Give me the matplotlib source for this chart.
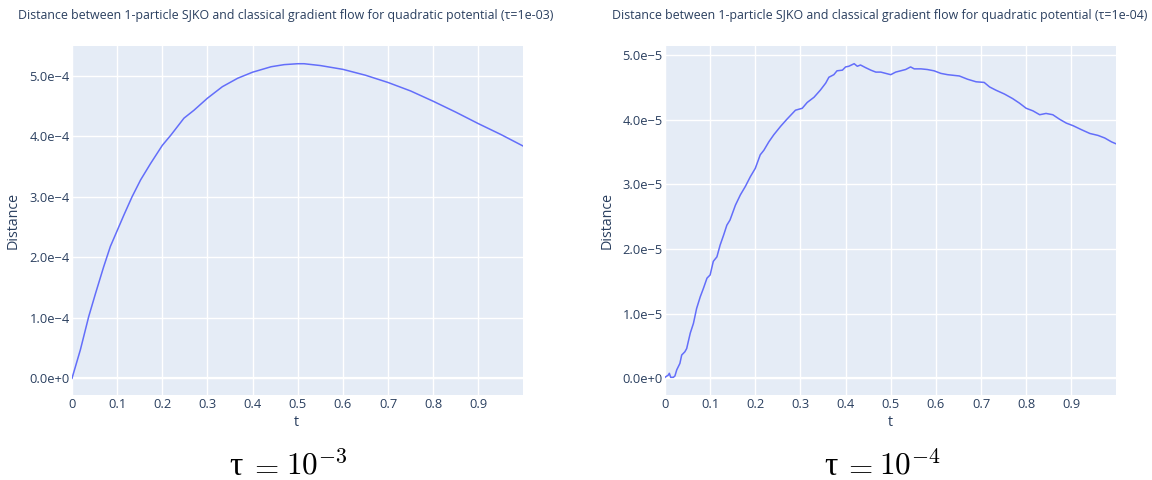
import matplotlib
matplotlib.use('Agg')
import matplotlib.pyplot as plt
from matplotlib.ticker import FixedLocator, FixedFormatter

plt.rcParams['font.family'] = ['Open Sans', 'DejaVu Sans']
plt.rcParams['mathtext.fontset'] = 'cm'

# ---------------- data ----------------
t_left = [0, 0.0185, 0.037, 0.052, 0.070, 0.085, 0.1, 0.115, 0.133, 0.152, 0.174,
          0.2, 0.219, 0.248, 0.270, 0.3, 0.333, 0.367, 0.4, 0.441, 0.47, 0.5,
          0.514, 0.55, 0.6, 0.65, 0.7, 0.75, 0.8, 0.85, 0.9, 0.95, 0.999]
d_left = [0, 0.47, 1.02, 1.40, 1.84, 2.18, 2.44, 2.70, 3.00, 3.28, 3.55,
          3.85, 4.02, 4.30, 4.43, 4.63, 4.82, 4.96, 5.06, 5.15, 5.185, 5.20,
          5.20, 5.17, 5.107, 5.01, 4.89, 4.75, 4.58, 4.40, 4.21, 4.03, 3.84]  # x 1e-4

t_right = [0, 0.0074, 0.0096, 0.0126, 0.0185, 0.022, 0.026, 0.033, 0.037, 0.044,
           0.048, 0.056, 0.063, 0.070, 0.078, 0.085, 0.093, 0.1, 0.107, 0.115,
           0.122, 0.130, 0.137, 0.144, 0.156, 0.167, 0.178, 0.189, 0.2, 0.211,
           0.219, 0.230, 0.241, 0.256, 0.270, 0.289, 0.304, 0.315, 0.330, 0.344,
           0.356, 0.363, 0.374, 0.381, 0.393, 0.4, 0.407, 0.419, 0.426, 0.433,
           0.444, 0.456, 0.467, 0.478, 0.489, 0.5, 0.511, 0.522, 0.533, 0.544,
           0.552, 0.567, 0.581, 0.596, 0.611, 0.626, 0.652, 0.670, 0.689, 0.707,
           0.719, 0.733, 0.752, 0.770, 0.785, 0.8, 0.815, 0.830, 0.844, 0.859,
           0.874, 0.889, 0.904, 0.922, 0.941, 0.959, 0.974, 0.989, 0.999]
d_right = [0.015, 0.05, 0.077, 0.015, 0.015, 0.036, 0.13, 0.23, 0.36, 0.41,
           0.46, 0.70, 0.85, 1.08, 1.26, 1.39, 1.55, 1.60, 1.81, 1.88,
           2.06, 2.22, 2.37, 2.45, 2.68, 2.84, 2.97, 3.12, 3.25, 3.46,
           3.53, 3.66, 3.77, 3.90, 4.01, 4.15, 4.18, 4.27, 4.35, 4.46,
           4.57, 4.66, 4.70, 4.76, 4.77, 4.82, 4.83, 4.87, 4.83, 4.85,
           4.81, 4.77, 4.74, 4.74, 4.72, 4.70, 4.74, 4.76, 4.78, 4.82,
           4.79, 4.79, 4.78, 4.76, 4.72, 4.70, 4.68, 4.63, 4.59, 4.58,
           4.51, 4.46, 4.40, 4.33, 4.26, 4.18, 4.14, 4.08, 4.10, 4.08,
           4.01, 3.95, 3.91, 3.85, 3.79, 3.76, 3.72, 3.66, 3.63]  # x 1e-5

x_ticks = [0, 0.1, 0.2, 0.3, 0.4, 0.5, 0.6, 0.7, 0.8, 0.9]
x_labels = ['0', '0.1', '0.2', '0.3', '0.4', '0.5', '0.6', '0.7', '0.8', '0.9']
y_ticks_left = [0, 1e-4, 2e-4, 3e-4, 4e-4, 5e-4]
y_labels_left = ['0.0e+0', '1.0e\u22124', '2.0e\u22124', '3.0e\u22124', '4.0e\u22124', '5.0e\u22124']
y_ticks_right = [0, 1e-5, 2e-5, 3e-5, 4e-5, 5e-5]
y_labels_right = ['0.0e+0', '1.0e\u22125', '2.0e\u22125', '3.0e\u22125', '4.0e\u22125', '5.0e\u22125']

title_left = 'Distance between 1-particle SJKO and classical gradient flow for quadratic potential (\u03c4=1e-03)'
title_right = 'Distance between 1-particle SJKO and classical gradient flow for quadratic potential (\u03c4=1e-04)'
cap_tau = '\u03c4'
cap_eq = r'$=$'
cap_pow_left = r'$10^{-3}$'
cap_pow_right = r'$10^{-4}$'

# ---------------- style ----------------
TXT = '#2a3f5f'
BG = '#E5ECF6'
LINE = '#636EFA'
W, H = 1152, 480

fig = plt.figure(figsize=(11.52, 4.8), dpi=100)


def px_axes(x0, x1, y0, y1):
    return fig.add_axes([x0 / W, 1 - y1 / H, (x1 - x0) / W, (y1 - y0) / H])


def style(ax, yt, yl, ylim):
    ax.set_facecolor(BG)
    for s in ax.spines.values():
        s.set_visible(False)
    ax.set_xlim(0, 0.999)
    ax.set_ylim(*ylim)
    ax.xaxis.set_major_locator(FixedLocator(x_ticks))
    ax.xaxis.set_major_formatter(FixedFormatter(x_labels))
    ax.yaxis.set_major_locator(FixedLocator(yt))
    ax.yaxis.set_major_formatter(FixedFormatter(yl))
    ax.grid(True, color='white', linewidth=1.0)
    ax.set_axisbelow(True)
    ax.tick_params(axis='both', length=0, labelsize=9.3, labelcolor=TXT)
    ax.tick_params(axis='y', pad=1.5)
    ax.tick_params(axis='x', pad=2)
    ax.axhline(0, color='white', linewidth=1.6, zorder=1)


axL = px_axes(72, 523, 46, 395)
style(axL, y_ticks_left, y_labels_left, (-0.276e-4, 5.493e-4))
axL.plot(t_left, [v * 1e-4 for v in d_left], color=LINE, linewidth=1.1, zorder=3)

axR = px_axes(665, 1116, 46, 395)
style(axR, y_ticks_right, y_labels_right, (-0.259e-5, 5.144e-5))
axR.plot(t_right, [v * 1e-5 for v in d_right], color=LINE, linewidth=1.1, zorder=3)


def ftext(x, y, s, ha='center', va='center', **kw):
    fig.text(x / W, 1 - y / H, s, ha=ha, va=va, **kw)


ftext(286, 15, title_left, fontsize=8.9, color=TXT)
ftext(880, 15, title_right, fontsize=8.9, color=TXT)
ftext(13, 220, 'Distance', fontsize=10.3, color=TXT, rotation=90)
ftext(607, 220, 'Distance', fontsize=10.3, color=TXT, rotation=90)
ftext(296, 423, 't', fontsize=10.3, color=TXT)
ftext(890, 423, 't', fontsize=10.3, color=TXT)

# captions below each panel
for x_tau, x_eq, x_pow, pw in [(229.6, 264, 286, cap_pow_left),
                               (824, 858, 879, cap_pow_right)]:
    ftext(x_tau, 475, cap_tau, ha='left', va='baseline', fontsize=24,
          color='black', family=['Liberation Serif', 'DejaVu Serif'])
    ftext(x_eq, 475, cap_eq, ha='center', va='baseline', fontsize=22.5, color='black')
    ftext(x_pow, 475, pw, ha='left', va='baseline', fontsize=22.5, color='black')

fig.savefig('out.png', dpi=100)
